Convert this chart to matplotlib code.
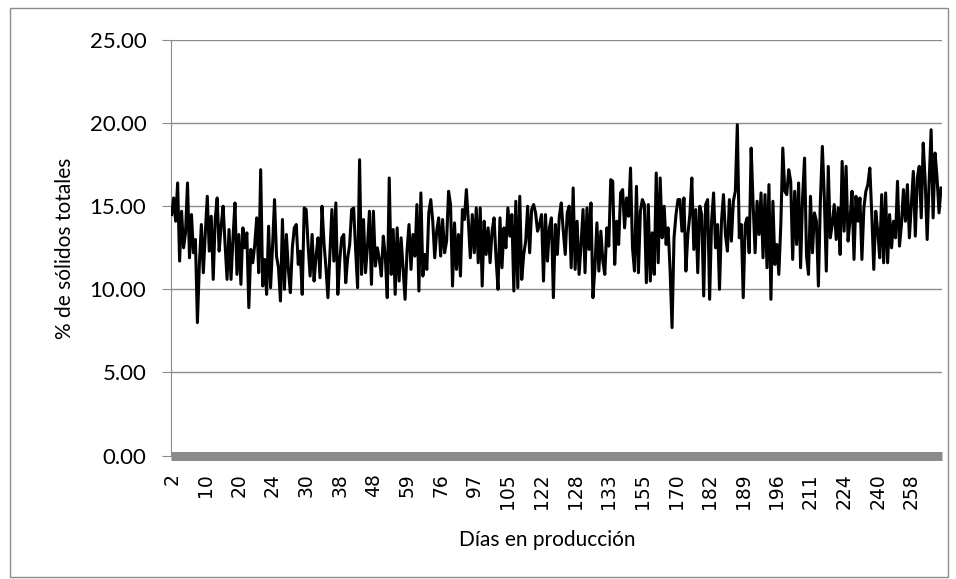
import matplotlib
matplotlib.use("Agg")
import matplotlib.pyplot as plt
from matplotlib.patches import Rectangle
from matplotlib.ticker import FormatStrFormatter

plt.rcParams['font.family'] = ['Lato', 'DejaVu Sans']

# day labels shown under the category axis (one every `label_step` records)
tick_days = ["2", "10", "20", "24", "30", "38", "48", "59", "76", "97", "105", "122",
             "128", "133", "155", "170", "182", "189", "196", "211", "224", "240", "258"]
label_step = 17

# % total solids per record, in production order
solidos = [
    14.5, 15.5, 14.1, 16.4, 11.7, 14.7, 12.5, 13.4, 16.4, 11.9, 14.5, 12.2, 13.0,
    8.0,
    11.5, 13.9, 11.0, 13.4, 15.6, 12.3, 14.4, 10.6, 14.2, 15.5, 12.3, 13.8, 15.0,
    12.7, 10.6, 13.6, 10.6, 13.1, 15.2, 10.9, 13.3, 10.3, 13.7, 12.5, 13.4,
    8.9,
    12.4, 11.6, 12.7, 14.3, 11.0,
    17.2,
    10.2, 11.8, 9.7, 13.8, 10.1, 12.6, 15.4, 12.0, 11.3,
    9.3,
    14.2, 10.0, 13.3, 11.2, 9.8, 12.5, 13.7, 13.9, 11.5, 12.3, 9.7, 14.9, 14.8,
    12.6, 10.8, 13.3, 10.5, 12.0, 13.1, 10.7, 15.0, 12.8, 11.3, 9.5, 12.2, 14.8,
    11.7, 15.2, 9.7, 11.8, 13.1, 13.3, 10.4, 11.9, 12.7, 14.8, 14.9, 12.4, 10.1,
    17.8,
    10.9, 14.2, 11.0, 12.6, 14.7, 10.3, 14.7, 11.4, 12.5, 11.8, 10.8, 13.2, 12.0,
    9.5, 16.7,
    10.9, 13.6, 9.7, 13.7, 10.5, 13.1, 11.2,
    9.4,
    12.3, 13.9, 11.2, 13.3, 12.0, 15.1, 9.9,
    15.8,
    10.8, 12.1, 11.2, 14.6, 15.4, 14.1, 11.9, 13.5, 14.3, 12.0, 14.2, 12.2, 12.9,
    15.9,
    15.1, 10.2, 14.0, 11.2, 13.3, 10.8, 14.8, 14.2,
    16.0,
    14.1, 11.9, 14.5, 12.2, 14.9, 11.6, 14.9,
    10.2,
    14.1, 12.1, 13.7, 11.6, 13.5, 14.3, 11.9,
    10.0,
    14.3, 11.3, 13.7, 12.5, 14.9, 13.2, 14.5,
    9.9,
    15.3, 10.1,
    15.6,
    10.6, 12.1, 12.9, 15.0, 12.2, 14.8, 15.1, 14.6, 13.5, 13.9, 14.5,
    10.5,
    14.5, 11.7, 13.7, 14.3,
    9.5, 13.9, 12.1, 14.4, 15.2, 13.5, 12.1, 14.6, 15.0, 11.3,
    16.1, 11.2, 14.1, 10.9, 12.7, 14.8, 11.0, 14.9, 12.4, 15.2,
    9.5, 11.3, 14.0, 11.1, 13.5, 11.7, 10.9, 13.7, 12.6, 16.6,
    16.5, 11.5, 14.1, 12.7, 15.8, 16.0, 13.7, 15.5, 14.4, 17.3,
    12.5, 11.1, 16.2, 11.0, 14.7, 15.4, 15.1, 10.4, 15.1, 10.5, 13.4, 10.9,
    17.0,
    11.6, 16.7, 13.1, 15.0, 12.7, 13.7, 11.2,
    7.7,
    13.1, 14.5, 15.4, 15.4, 13.5, 15.5, 11.1, 13.3, 14.5, 16.7, 12.4, 14.8, 11.0,
    15.0, 14.5, 9.6, 15.1, 15.4, 9.4, 14.1, 15.8, 12.5, 13.9, 10.0, 14.1, 15.7,
    13.3, 12.3, 15.4, 12.9, 15.3, 15.9,
    19.9,
    13.1, 13.9, 9.5,
    13.9, 14.3, 12.2, 18.5, 15.1, 12.2, 15.3, 13.3, 15.8,
    11.9, 15.7, 11.3, 16.3, 9.4, 15.3, 11.5, 12.7, 10.9,
    13.9, 18.5, 15.9, 15.7, 17.2, 16.5, 11.8, 15.9,
    12.7, 16.4, 11.3, 15.5, 17.9, 12.0, 10.9, 15.6, 12.2,
    14.6, 14.1, 10.2, 15.3, 18.6, 15.5, 11.1, 17.4,
    13.1, 13.9, 15.1, 13.0, 14.9, 12.1, 17.7, 13.5, 17.4,
    12.9, 14.2, 15.9, 11.8, 15.6, 14.1, 15.5, 11.8,
    14.9, 15.9, 16.3, 17.3, 14.5, 11.2, 14.7, 13.5,
    11.9, 15.7, 11.6, 15.8, 11.6, 14.5, 12.5, 14.1, 13.1,
    16.5, 12.6, 13.9, 16.0, 14.1, 16.3, 13.1, 15.1, 17.1,
    13.2, 16.7, 17.4, 14.3, 18.8, 16.5, 13.0, 16.5, 19.6,
    14.3, 18.2, 16.7, 14.6, 16.1,
]

W, H = 956, 579
fig = plt.figure(figsize=(W / 100, H / 100), dpi=100)

# chart frame
fig.add_artist(Rectangle((10 / W, 1 - 577 / H), 938 / W, 569 / H,
                         transform=fig.transFigure, fill=False,
                         edgecolor='#8c8c8c', lw=1))

ax = fig.add_axes([170.7 / W, 1 - 455.6 / H, 771.3 / W, 415.6 / H])

n = len(solidos)
ax.plot(range(n), solidos, color='black', lw=2.2, solid_joinstyle='round', zorder=3)

ax.set_xlim(-0.5, n - 0.5)
ax.set_ylim(0, 25)
ax.set_yticks([0, 5, 10, 15, 20, 25])
ax.yaxis.set_major_formatter(FormatStrFormatter('%.2f'))
ax.grid(axis='y', color='#8c8c8c', lw=1)
ax.set_axisbelow(True)

for s in ['top', 'right', 'bottom']:
    ax.spines[s].set_visible(False)
ax.spines['left'].set_color('#8c8c8c')
ax.tick_params(axis='y', length=6.5, color='#8c8c8c', pad=11, labelsize=16)

# thick category axis line
ax.axhline(0, color='#8a8a8a', lw=6.5, clip_on=False, zorder=2, solid_capstyle='butt')

ax.set_xticks(list(range(0, n, label_step))[:len(tick_days)])
ax.set_xticklabels(tick_days, rotation=90, fontsize=13.5, family='DejaVu Sans')
ax.tick_params(axis='x', length=0, pad=12.5)

fig.text(65 / W, 1 - 248 / H, '% de sólidos totales', rotation=90,
         ha='center', va='center', fontsize=15)
fig.text(547 / W, 1 - 540 / H, 'Días en producción', ha='center', va='center', fontsize=15)

fig.savefig('out.png', dpi=100)
